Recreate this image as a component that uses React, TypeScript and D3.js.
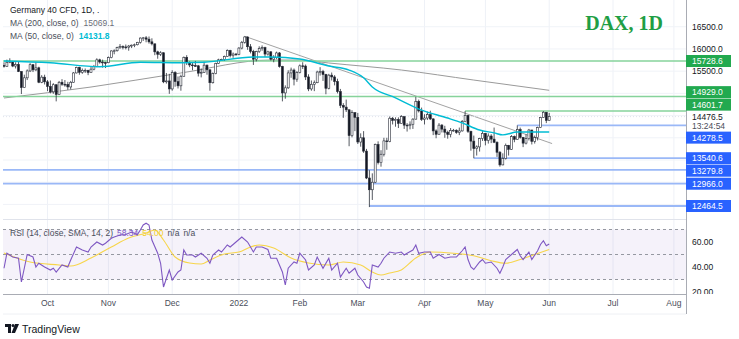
import React from 'react';
import * as d3 from 'd3';

const W = 739;
const H = 339;

// [open, high, low, close] daily bars, Sep 10 2021 .. Jun 1 2022
const ohlc: [number, number, number, number][] = [
  [15630, 15700, 15580, 15610], [15610, 15760, 15600, 15700], [15700, 15790, 15680, 15720], [15720, 15730, 15590, 15615],
  [15615, 15700, 15560, 15650], [15650, 15720, 15480, 15490], [15490, 15500, 14985, 15130], [15130, 15420, 15120, 15350],
  [15350, 15540, 15300, 15505], [15505, 15680, 15480, 15645], [15645, 15660, 15480, 15530], [15530, 15700, 15500, 15575],
  [15575, 15600, 15230, 15250], [15250, 15410, 15230, 15365], [15365, 15420, 15200, 15260], [15260, 15300, 15050, 15155],
  [15155, 15290, 15000, 15035], [15035, 15230, 14990, 15195], [15195, 15200, 14820, 14975], [14975, 15280, 14970, 15250],
  [15250, 15320, 15170, 15205], [15205, 15300, 15150, 15200], [15200, 15260, 15080, 15145], [15145, 15280, 15090, 15250],
  [15250, 15480, 15240, 15460], [15460, 15600, 15450, 15585], [15585, 15600, 15420, 15475], [15475, 15560, 15440, 15515],
  [15515, 15560, 15460, 15520], [15520, 15530, 15410, 15470], [15470, 15600, 15460, 15545], [15545, 15640, 15520, 15600],
  [15600, 15790, 15590, 15755], [15755, 15780, 15670, 15705], [15705, 15760, 15580, 15695], [15695, 15710, 15570, 15690],
  [15690, 15830, 15680, 15805], [15805, 15970, 15790, 15955], [15955, 15990, 15880, 15960], [15960, 16050, 15940, 16030],
  [16030, 16110, 16000, 16055], [16055, 16080, 15990, 16045], [16045, 16100, 15990, 16040], [16040, 16090, 15960, 16065],
  [16065, 16100, 16020, 16085], [16085, 16120, 16040, 16095], [16095, 16160, 16080, 16150], [16150, 16260, 16120, 16245],
  [16245, 16270, 16180, 16250], [16250, 16290, 16150, 16220], [16220, 16280, 16120, 16160], [16160, 16240, 16080, 16115],
  [16115, 16120, 15860, 15935], [15935, 15960, 15780, 15880], [15880, 15950, 15840, 15915], [15915, 15920, 15230, 15260],
  [15260, 15460, 15220, 15280], [15280, 15440, 14990, 15100], [15100, 15520, 15060, 15470], [15470, 15500, 15150, 15265],
  [15265, 15380, 15110, 15170], [15170, 15420, 15060, 15385], [15385, 15830, 15380, 15810], [15810, 15860, 15640, 15690],
  [15690, 15720, 15590, 15640], [15640, 15690, 15520, 15625], [15625, 15730, 15600, 15620], [15620, 15640, 15380, 15455],
  [15455, 15560, 15360, 15475], [15475, 15710, 15460, 15635], [15635, 15650, 15420, 15530], [15530, 15540, 15060, 15240],
  [15240, 15470, 15220, 15445], [15445, 15690, 15430, 15675], [15675, 15780, 15660, 15755], [15755, 15780, 15740, 15760],
  [15760, 15850, 15730, 15830], [15830, 15990, 15820, 15965], [15965, 15980, 15810, 15850], [15850, 15920, 15800, 15885],
  [15885, 15910, 15850, 15880], [15880, 16040, 15860, 16020], [16020, 16180, 15990, 16150], [16150, 16285, 16120, 16270],
  [16270, 16280, 15980, 16050], [16050, 16110, 15900, 15945], [15945, 15980, 15640, 15770], [15770, 15960, 15720, 15940],
  [15940, 16060, 15910, 16010], [16010, 16080, 15960, 16030], [16030, 16050, 15820, 15885], [15885, 15960, 15850, 15935],
  [15935, 15950, 15740, 15770], [15770, 15860, 15700, 15810], [15810, 15940, 15770, 15910], [15910, 15930, 15580, 15605],
  [15605, 15620, 14820, 15010], [15010, 15180, 14880, 15125], [15125, 15520, 15100, 15460], [15460, 15580, 15350, 15525],
  [15525, 15560, 15180, 15320], [15320, 15500, 15260, 15470], [15470, 15650, 15450, 15620], [15620, 15700, 15550, 15615],
  [15615, 15650, 15300, 15370], [15370, 15430, 15050, 15100], [15100, 15290, 15060, 15205], [15205, 15290, 15050, 15240],
  [15240, 15510, 15230, 15480], [15480, 15590, 15400, 15490], [15490, 15530, 15280, 15425], [15425, 15440, 14980, 15115],
  [15115, 15440, 15090, 15410], [15410, 15470, 15290, 15370], [15370, 15410, 15180, 15265], [15265, 15330, 15000, 15040],
  [15040, 15100, 14670, 14730], [14730, 14780, 14450, 14690], [14690, 14860, 14580, 14630], [14630, 14640, 13810, 14050],
  [14050, 14620, 14010, 14565], [14565, 14570, 14150, 14460], [14460, 14560, 13860, 13905], [13905, 14100, 13800, 14000],
  [14000, 14150, 13660, 13700], [13700, 13750, 13070, 13095], [13095, 13270, 12440, 12830], [12830, 13200, 12600, 13000],
  [13000, 13870, 12980, 13850], [13850, 13920, 13400, 13440], [13440, 13720, 13350, 13630], [13630, 14000, 13580, 13930],
  [13930, 14000, 13730, 13915], [13915, 14480, 13900, 14440], [14440, 14470, 14300, 14390], [14390, 14460, 14250, 14415],
  [14415, 14460, 14220, 14325], [14325, 14510, 14320, 14475], [14475, 14480, 14200, 14285], [14285, 14330, 14140, 14275],
  [14275, 14370, 14190, 14305], [14305, 14440, 14200, 14420], [14420, 14925, 14410, 14820], [14820, 14860, 14570, 14605],
  [14605, 14680, 14380, 14415], [14415, 14530, 14300, 14445], [14445, 14590, 14400, 14520], [14520, 14610, 14400, 14425],
  [14425, 14440, 14060, 14155], [14155, 14190, 13990, 14080], [14080, 14330, 14070, 14285], [14285, 14310, 14120, 14195],
  [14195, 14270, 14000, 14125], [14125, 14160, 13980, 14075], [14075, 14220, 14010, 14165], [14165, 14200, 14140, 14170],
  [14170, 14190, 14090, 14120], [14120, 14230, 14060, 14155], [14155, 14400, 14140, 14365], [14365, 14600, 14350, 14505],
  [14505, 14510, 14110, 14145], [14145, 14160, 13710, 13925], [13925, 14050, 13540, 13755], [13755, 13830, 13600, 13795],
  [13795, 14000, 13690, 13980], [13980, 14150, 13930, 14100], [14100, 14110, 13830, 13940], [13940, 14100, 13870, 14040],
  [14040, 14080, 13880, 13970], [13970, 14230, 13880, 13900], [13900, 13920, 13570, 13675], [13675, 13700, 13350, 13390],
  [13390, 13650, 13380, 13535], [13535, 13870, 13510, 13830], [13830, 13840, 13600, 13740], [13740, 14060, 13730, 14025],
  [14025, 14050, 13900, 13965], [13965, 14280, 13960, 14185], [14185, 14230, 13980, 14010], [14010, 14020, 13790, 13880],
  [13880, 14080, 13850, 13980], [13980, 14200, 13940, 14175], [14175, 14180, 13850, 13920], [13920, 14050, 13870, 14005],
  [14005, 14250, 13940, 14230], [14230, 14470, 14220, 14460], [14460, 14600, 14450, 14575], [14575, 14580, 14330, 14390],
  [14390, 14560, 14380, 14476.5],
];

// moving averages: [bar index, value]
const ma50Pts: [number, number][] = [
  [0, 15730], [16, 15690], [33, 15600], [47, 15700], [61, 15690], [69, 15700], [86, 15820], [92, 15820],
  [102, 15775], [112, 15615], [119, 15525], [124, 15350], [127, 15145], [135, 14900], [144, 14625],
  [153, 14445], [158, 14335], [164, 14175], [169, 14110], [172, 14065], [177, 14130], [184, 14130], [188, 14131.8],
];
const ma200Pts: [number, number][] = [
  [0, 14896], [30, 15143], [61, 15459], [92, 15751], [102, 15751], [112, 15684], [137, 15526], [162, 15300], [188, 15069.1],
];
// trend line anchors
const trendPts: [number, number][] = [[83, 16285], [189, 13870]];

// RSI(14) and its SMA
const rsiPts: [number, number][] = [
  [0, 39], [1, 51], [3, 48], [5, 47], [6, 28], [8, 50], [10, 48], [11, 40], [12, 43], [14, 40], [16, 37.6], [17, 39],
  [18, 36], [20, 41.6], [22, 40], [23, 45.6], [25, 56], [27, 53.6], [29, 52], [30, 56], [32, 60], [34, 57.6], [35, 59],
  [37, 63], [38, 64], [40, 65.6], [42, 66], [44, 68], [46, 66], [47, 69.6], [48, 73.6], [49, 75], [50, 73.6], [51, 61.6],
  [53, 51], [54, 43], [55, 24], [57, 37.6], [58, 29.6], [60, 36], [61, 37.6], [62, 53.6], [63, 49.6], [65, 49.6],
  [66, 48], [68, 51], [70, 47], [71, 43], [72, 49.6], [74, 53.6], [75, 52], [77, 57.6], [78, 56], [80, 60], [82, 64],
  [84, 60], [86, 52], [87, 56], [89, 56], [91, 54], [92, 47], [94, 47], [96, 36], [97, 25.6], [98, 39], [100, 44],
  [101, 43], [102, 51], [104, 45.6], [105, 37.6], [107, 41.6], [108, 48], [110, 39], [112, 47], [113, 37.6], [115, 43],
  [116, 32], [118, 39], [119, 35], [121, 39], [122, 33.6], [124, 28], [125, 24], [126, 23], [127, 41.6], [129, 40],
  [130, 43], [131, 47], [133, 52], [135, 51], [137, 52], [138, 49.6], [139, 51], [141, 53.6], [142, 57.6], [143, 51],
  [145, 52], [147, 52], [148, 47], [150, 50], [152, 47], [154, 48], [156, 48], [158, 53], [159, 56], [160, 46],
  [161, 40], [162, 38], [164, 44], [165, 46], [166, 43], [168, 44], [170, 39], [171, 35], [172, 40], [173, 46],
  [175, 50], [177, 54], [178, 49], [179, 46], [181, 52], [182, 46], [184, 53], [185, 58], [186, 61], [187, 57], [188, 58.34],
];
const rsiSmaPts: [number, number][] = [
  [0, 51.2], [9, 44], [19, 41.6], [23, 40.8], [30, 47.2], [37, 56], [43, 63.2], [49, 67.2], [52, 69.6], [55, 61.6],
  [59, 48], [64, 43.2], [68, 42.4], [71, 45.6], [76, 50.4], [81, 52], [85, 56], [88, 57.6], [93, 55.2], [99, 47.2],
  [105, 43.2], [112, 41.6], [117, 44], [123, 41.6], [127, 36], [130, 33.6], [133, 35.2], [137, 37.6], [142, 47.2],
  [147, 52], [155, 51], [162, 49], [168, 45], [173, 43], [178, 46], [183, 50], [188, 54],
];

const monthLabels = ['Oct', 'Nov', 'Dec', '2022', 'Feb', 'Mar', 'Apr', 'May', 'Jun', 'Jul', 'Aug'];
const monthBars = [15, 36, 58, 81, 102, 122, 145, 166, 188, 210, 231];
const priceTicks = [16500, 16000, 15500];
const gridPrices = [16500, 16000, 15500, 15000, 14500, 14000, 13500, 13000, 12500];
const rsiTicks = [60, 40, 20];
const rsiDashed = [70, 50, 30];

const greenLevels = [15728.6, 14929.0, 14601.7];
const greenStarts = [-1, -1, 159];
const blueLevels = [14278.5, 13540.6, 13279.8, 12966.0, 12464.5];
const blueStarts = [177, 162, -1, -1, 126];
const lastPrice = 14476.5;
const countdown = '13:24:54';

const FONT = "'Liberation Sans', Arial, sans-serif";

export default function App() {
  const L = 3, R = 686, mainBottom = 219, rsiTop = 220, rsiBottom = 294, axisBottom = 314;
  const xs = d3.scaleLinear().domain([0, 231]).range([4, 4 + 2.9 * 231]);
  const yp = d3.scaleLinear().domain([12464.5, 16500]).range([206, 206 - 4035.5 * 0.04442]);
  const yr = d3.scaleLinear().domain([20, 70]).range([292, 229.5]);

  const priceLine = d3.line<[number, number]>().x(d => xs(d[0])).y(d => yp(d[1])).curve(d3.curveMonotoneX);
  const straight = d3.line<[number, number]>().x(d => xs(d[0])).y(d => yp(d[1]));
  const rsiLine = d3.line<[number, number]>().x(d => xs(d[0])).y(d => yr(d[1]));
  const smaLine = d3.line<[number, number]>().x(d => xs(d[0])).y(d => yr(d[1])).curve(d3.curveMonotoneX);

  // right-axis label layout: push boxes away from the last-price block
  const lastY = yp(lastPrice);
  const blockTop = lastY - 6, blockBottom = lastY + 15;
  type Lab = { v: number; color: string; y: number };
  const labs: Lab[] = [
    ...greenLevels.map(v => ({ v, color: '#22a94f', y: yp(v) })),
    ...blueLevels.map(v => ({ v, color: '#2962ff', y: yp(v) })),
  ];
  const above = labs.filter(l => l.y < lastY).sort((a, b) => b.y - a.y);
  let lim = blockTop;
  above.forEach(l => { l.y = Math.min(l.y, lim - 6); lim = l.y - 6.5; });
  const below = labs.filter(l => l.y >= lastY).sort((a, b) => a.y - b.y);
  lim = blockBottom;
  below.forEach(l => { l.y = Math.max(l.y, lim + 6); lim = l.y + 6.5; });

  return (
    <svg width={W} height={H} style={{ position: 'absolute', left: 0, top: 0, background: '#fff' }} fontFamily={FONT}>
      <defs>
        <clipPath id="mainClip"><rect x={L} y={0} width={R - L} height={mainBottom} /></clipPath>
        <clipPath id="rsiClip"><rect x={L} y={rsiTop} width={R - L} height={rsiBottom - rsiTop} /></clipPath>
        <clipPath id="rsiAxisClip"><rect x={R} y={rsiTop} width={W - R} height={rsiBottom - rsiTop} /></clipPath>
      </defs>
      <rect x={0} y={0} width={W} height={H} fill="#fff" />

      {/* grid */}
      {monthBars.map((b, k) => (
        <line key={'vg' + k} x1={xs(b)} x2={xs(b)} y1={0} y2={rsiBottom} stroke="#eef1f7" strokeWidth={1} />
      ))}
      {gridPrices.map((p, k) => (
        <line key={'hg' + k} x1={L} x2={R} y1={yp(p)} y2={yp(p)} stroke="#f0f3f8" strokeWidth={1} />
      ))}

      {/* main pane */}
      <g clipPath="url(#mainClip)">
        <path d={priceLine(ma200Pts) || ''} fill="none" stroke="#9a9a9a" strokeWidth={1} />
        <path d={straight(trendPts) || ''} fill="none" stroke="#a3a3a3" strokeWidth={1} />
        {greenLevels.map((v, k) => (
          <line key={'gl' + k} x1={greenStarts[k] < 0 ? L : xs(greenStarts[k])} x2={R} y1={yp(v)} y2={yp(v)}
            stroke="#86d39b" strokeWidth={1.4} />
        ))}
        {blueLevels.map((v, k) => (
          <line key={'bl' + k} x1={blueStarts[k] < 0 ? L : xs(blueStarts[k])} x2={R} y1={yp(v)} y2={yp(v)}
            stroke="#9ab8f7" strokeWidth={1.8} />
        ))}
        <line x1={L} x2={R} y1={lastY} y2={lastY} stroke="#e0e3eb" strokeWidth={1} strokeDasharray="1 2" />
        {ohlc.map(([o, h, l, c], i) => {
          const x = xs(i);
          const up = c >= o;
          const t = yp(Math.max(o, c));
          const b = yp(Math.min(o, c));
          return (
            <g key={'c' + i}>
              <line x1={x} x2={x} y1={yp(h)} y2={yp(l)} stroke="#2a2e39" strokeWidth={0.8} />
              <rect x={x - 1} y={t} width={2} height={Math.max(0.8, b - t)}
                fill={up ? '#ffffff' : '#131722'} stroke="#2a2e39" strokeWidth={0.6} />
            </g>
          );
        })}
        <path d={priceLine(ma50Pts) || ''} fill="none" stroke="#00bcd4" strokeWidth={1.4} />
      </g>

      {/* pane separator */}
      <line x1={L} x2={R} y1={mainBottom + 0.5} y2={mainBottom + 0.5} stroke="#e0e3eb" strokeWidth={1} />

      {/* RSI pane */}
      <rect x={L} y={yr(70)} width={R - L} height={yr(30) - yr(70)} fill="#7e57c2" fillOpacity={0.08} />
      {rsiDashed.map((v, k) => (
        <line key={'rd' + k} x1={L} x2={R} y1={yr(v)} y2={yr(v)} stroke="#9598a1" strokeWidth={1} strokeDasharray="3 3" />
      ))}
      <g clipPath="url(#rsiClip)">
        <path d={smaLine(rsiSmaPts) || ''} fill="none" stroke="#f7d54a" strokeWidth={1.1} />
        <path d={rsiLine(rsiPts) || ''} fill="none" stroke="#7e57c2" strokeWidth={1.1} />
      </g>
      <g clipPath="url(#rsiAxisClip)">
        {rsiTicks.map((v, k) => (
          <text key={'rt' + k} x={692} y={yr(v) + 3} fontSize={8.5} fill="#131722">{v.toFixed(2)}</text>
        ))}
      </g>

      {/* time axis */}
      <rect x={0} y={rsiBottom} width={R} height={axisBottom - rsiBottom} fill="#fff" />
      <line x1={L} x2={R} y1={rsiBottom + 0.5} y2={rsiBottom + 0.5} stroke="#a9acb4" strokeWidth={1} />
      <line x1={L} x2={R} y1={axisBottom} y2={axisBottom} stroke="#eef0f4" strokeWidth={1} />
      {monthLabels.map((m, k) => (
        <text key={'m' + k} x={xs(monthBars[k])} y={306} fontSize={8.5} fill="#4a4e5a" textAnchor="middle">{m}</text>
      ))}

      {/* right price axis */}
      <line x1={R + 0.5} x2={R + 0.5} y1={0} y2={axisBottom} stroke="#a9acb4" strokeWidth={1} />
      {priceTicks.map((p, k) => (
        <text key={'pt' + k} x={692} y={yp(p) + 3} fontSize={8.5} fill="#131722">{p.toFixed(1)}</text>
      ))}
      {labs.map((l, k) => (
        <g key={'lab' + k}>
          <rect x={R} y={l.y - 6} width={45} height={12} fill={l.color} />
          <text x={692} y={l.y + 3} fontSize={8.5} fill="#fff">{l.v.toFixed(1)}</text>
        </g>
      ))}
      <text x={692} y={lastY + 3} fontSize={8.5} fill="#131722">{lastPrice.toFixed(1)}</text>
      <text x={692} y={lastY + 12.5} fontSize={8.5} fill="#4a4e5a">{countdown}</text>

      {/* legends */}
      <text x={10} y={13} fontSize={8.5} fill="#131722">Germany 40 CFD, 1D, .</text>
      <text x={10} y={26} fontSize={8.5} fill="#4a4e5a">MA (200, close, 0)<tspan dx={5} fill="#6a6d78">15069.1</tspan></text>
      <text x={10} y={39} fontSize={8.5} fill="#4a4e5a">MA (50, close, 0)<tspan dx={5} fill="#00bcd4" fontWeight="bold">14131.8</tspan></text>
      <text x={10} y={236} fontSize={8.5} fill="#4a4e5a">RSI (14, close, SMA, 14, 2)
        <tspan dx={4} fill="#7e57c2">58.34</tspan>
        <tspan dx={4} fill="#f2cf2e">54.00</tspan>
        <tspan dx={4} fill="#4a4e5a">n/a</tspan>
        <tspan dx={4} fill="#4a4e5a">n/a</tspan>
      </text>

      {/* title */}
      <text x={663} y={30} fontSize={20} fontWeight="bold" fill="#1f9e45" textAnchor="end"
        fontFamily="'Liberation Serif', 'Times New Roman', serif">DAX, 1D</text>

      {/* TradingView logo */}
      <g transform="translate(5,324)">
        <path d="M0 0 H6 V9 H3 V3 H0 Z" fill="#131722" />
        <circle cx={8} cy={1.5} r={1.5} fill="#131722" />
        <path d="M10 0 H14 L10 9 H6.5 Z" fill="#131722" />
      </g>
      <text x={22} y={333} fontSize={10.5} fill="#131722">TradingView</text>
    </svg>
  );
}
